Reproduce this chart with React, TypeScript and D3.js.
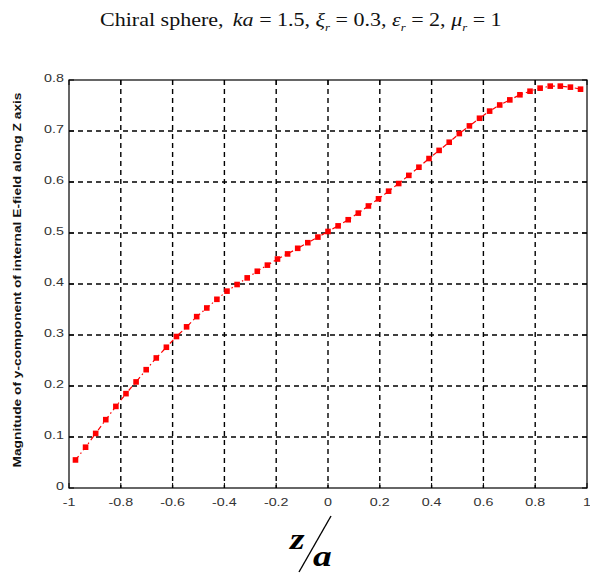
import React from "react";
import * as d3 from "d3";

// Sample positions along the axis (z/a) and the field magnitude at each one
const zPositions = [
  -0.975, -0.936, -0.897, -0.858, -0.819, -0.78, -0.741, -0.702, -0.663, -0.624,
  -0.585, -0.546, -0.507, -0.468, -0.429, -0.39, -0.351, -0.312, -0.273, -0.234,
  -0.195, -0.156, -0.117, -0.078, -0.039, 0.0, 0.039, 0.078, 0.117, 0.156,
  0.195, 0.234, 0.273, 0.312, 0.351, 0.39, 0.429, 0.468, 0.507, 0.546,
  0.585, 0.624, 0.663, 0.702, 0.741, 0.78, 0.819, 0.858, 0.897, 0.936, 0.975,
];
const eyMagnitude = [
  0.055, 0.08, 0.107, 0.134, 0.16, 0.185, 0.208, 0.232, 0.255, 0.276,
  0.297, 0.316, 0.336, 0.353, 0.37, 0.386, 0.399, 0.412, 0.425, 0.437,
  0.449, 0.459, 0.47, 0.481, 0.492, 0.503, 0.514, 0.526, 0.539, 0.553,
  0.567, 0.582, 0.597, 0.613, 0.629, 0.646, 0.662, 0.678, 0.695, 0.71,
  0.725, 0.739, 0.751, 0.761, 0.771, 0.778, 0.784, 0.788, 0.788, 0.786, 0.782,
];
const xTicks = [-1, -0.8, -0.6, -0.4, -0.2, 0, 0.2, 0.4, 0.6, 0.8, 1];
const yTicks = [0, 0.1, 0.2, 0.3, 0.4, 0.5, 0.6, 0.7, 0.8];

const W = 590;
const H = 574;
const plot = { left: 69, right: 587, top: 80, bottom: 488 };

export default function App() {
  const x = d3.scaleLinear().domain([-1, 1]).range([plot.left, plot.right]);
  const y = d3.scaleLinear().domain([0, 0.8]).range([plot.bottom, plot.top]);
  const pts = zPositions.map((z, i) => [z, eyMagnitude[i]] as [number, number]);
  const line = d3
    .line<[number, number]>()
    .x((d) => x(d[0]))
    .y((d) => y(d[1]));

  const tickFont = "Liberation Sans, Arial, sans-serif";
  const tickLen = 5;

  return (
    <svg
      width={W}
      height={H}
      style={{ position: "absolute", left: 0, top: 0, background: "#fff" }}
    >
      {/* title */}
      <text
        transform="translate(100,26) scale(1.16,1)"
        fontFamily="Liberation Serif, Times New Roman, serif"
        fontSize={19}
        fill="#111"
      >
        <tspan>Chiral sphere,</tspan>
        <tspan dx={8} fontStyle="italic">ka</tspan>
        <tspan> = 1.5, </tspan>
        <tspan fontStyle="italic">ξ</tspan>
        <tspan fontStyle="italic" fontSize={11} dy={5}>r</tspan>
        <tspan dy={-5}> = 0.3, </tspan>
        <tspan fontStyle="italic">ε</tspan>
        <tspan fontStyle="italic" fontSize={11} dy={5}>r</tspan>
        <tspan dy={-5}> = 2, </tspan>
        <tspan fontStyle="italic">μ</tspan>
        <tspan fontStyle="italic" fontSize={11} dy={5}>r</tspan>
        <tspan dy={-5}> = 1</tspan>
      </text>

      {/* dashed grid */}
      <g stroke="#000" strokeWidth={1.4} strokeDasharray="5,4">
        {xTicks.slice(1, -1).map((t) => (
          <line key={"gx" + t} x1={x(t)} x2={x(t)} y1={plot.top} y2={plot.bottom} />
        ))}
        {yTicks.slice(1, -1).map((t) => (
          <line key={"gy" + t} x1={plot.left} x2={plot.right} y1={y(t)} y2={y(t)} />
        ))}
      </g>

      {/* inward ticks on all sides */}
      <g stroke="#000" strokeWidth={1}>
        {xTicks.map((t) => (
          <g key={"tx" + t}>
            <line x1={x(t)} x2={x(t)} y1={plot.bottom} y2={plot.bottom - tickLen} />
            <line x1={x(t)} x2={x(t)} y1={plot.top} y2={plot.top + tickLen} />
          </g>
        ))}
        {yTicks.map((t) => (
          <g key={"ty" + t}>
            <line x1={plot.left} x2={plot.left + tickLen} y1={y(t)} y2={y(t)} />
            <line x1={plot.right} x2={plot.right - tickLen} y1={y(t)} y2={y(t)} />
          </g>
        ))}
      </g>

      {/* frame */}
      <rect
        x={plot.left}
        y={plot.top}
        width={plot.right - plot.left}
        height={plot.bottom - plot.top}
        fill="none"
        stroke="#000"
        strokeWidth={1.2}
      />

      {/* tick labels */}
      <g fontFamily={tickFont} fontSize={11} fill="#333">
        {xTicks.map((t) => (
          <text
            key={"lx" + t}
            transform={`translate(${x(t)},${506}) scale(1.3,1)`}
            textAnchor="middle"
          >
            {String(t)}
          </text>
        ))}
        {yTicks.map((t) => (
          <text
            key={"ly" + t}
            transform={`translate(${64},${y(t) + 2}) scale(1.3,1)`}
            textAnchor="end"
          >
            {String(t)}
          </text>
        ))}
      </g>

      {/* series: dash-dot line with square markers */}
      <path
        d={line(pts) || ""}
        fill="none"
        stroke="#ff0000"
        strokeWidth={1.2}
        strokeDasharray="5,3,1.5,3"
      />
      <g fill="#ff0000">
        {pts.map((d, i) => (
          <rect key={i} x={x(d[0]) - 2.8} y={y(d[1]) - 2.8} width={5.6} height={5.6} />
        ))}
      </g>

      {/* y-axis label */}
      <text
        transform="translate(21,280) rotate(-90)"
        textAnchor="middle"
        fontFamily={tickFont}
        fontWeight="bold"
        fontSize={11.5}
        fill="#111"
        textLength={375}
        lengthAdjust="spacingAndGlyphs"
      >
        Magnitude of y-component of internal E-field along Z axis
      </text>

      {/* x-axis label z/a */}
      <g fontFamily="Liberation Serif, Times New Roman, serif" fontWeight="bold" fontStyle="italic" fill="#000">
        <text transform="translate(290,549) scale(1.25,1)" fontSize={30}>z</text>
        <line x1={331} y1={516} x2={299} y2={572} stroke="#000" strokeWidth={1.4} />
        <text transform="translate(313,566) scale(1.25,1)" fontSize={30}>a</text>
      </g>
    </svg>
  );
}
